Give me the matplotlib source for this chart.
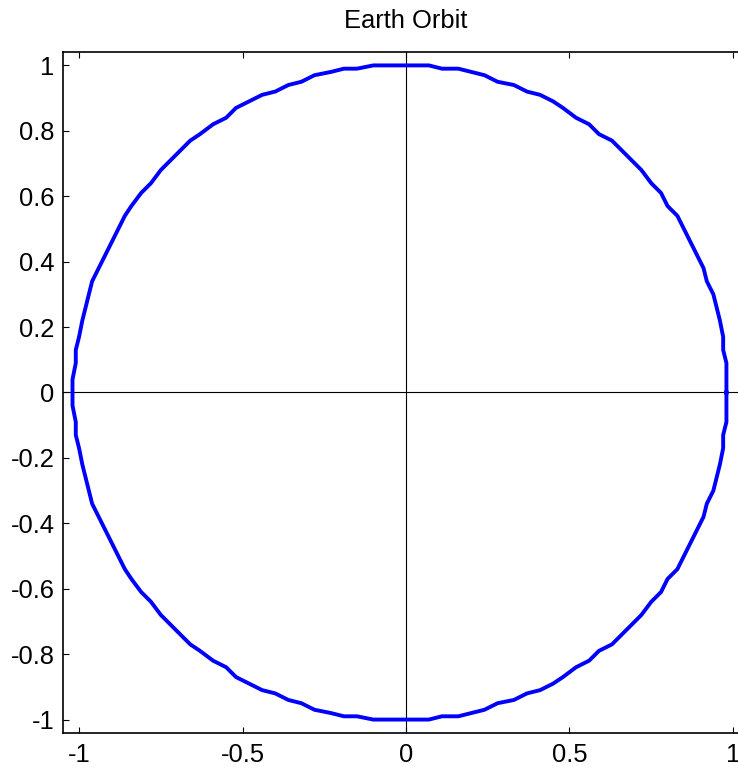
import matplotlib
matplotlib.use("Agg")
import matplotlib.pyplot as plt

plt.rcParams['font.family'] = ['Liberation Sans', 'DejaVu Sans']
plt.rcParams['axes.unicode_minus'] = False

# orbit points (AU), counter-clockwise from the right
orbit_x = [0.98, 0.98, 0.98, 0.97, 0.97, 0.96, 0.95, 0.94, 0.92, 0.91,
           0.89, 0.87, 0.85, 0.83, 0.80, 0.78, 0.75, 0.72, 0.69, 0.66,
           0.63, 0.59, 0.56, 0.52, 0.48, 0.45, 0.41, 0.37, 0.33, 0.28,
           0.24, 0.20, 0.16, 0.11, 0.07, 0.03, -0.02, -0.06, -0.10, -0.15,
           -0.19, -0.23, -0.28, -0.32, -0.36, -0.40, -0.44, -0.48, -0.52, -0.55,
           -0.59, -0.63, -0.66, -0.69, -0.72, -0.75, -0.78, -0.81, -0.84, -0.86,
           -0.88, -0.90, -0.92, -0.94, -0.96, -0.97, -0.98, -0.99, -1.00, -1.01,
           -1.01, -1.02, -1.02,
           -1.02, -1.01, -1.01, -1.00, -0.99, -0.98, -0.97, -0.96, -0.94, -0.92,
           -0.90, -0.88, -0.86, -0.84, -0.81, -0.78, -0.75, -0.72, -0.69, -0.66,
           -0.63, -0.59, -0.55, -0.52, -0.48, -0.44, -0.40, -0.36, -0.32, -0.28,
           -0.23, -0.19, -0.15, -0.10, -0.06, -0.02, 0.03, 0.07, 0.11, 0.16,
           0.20, 0.24, 0.28, 0.33, 0.37, 0.41, 0.45, 0.48, 0.52, 0.56,
           0.59, 0.63, 0.66, 0.69, 0.72, 0.75, 0.78, 0.80, 0.83, 0.85,
           0.87, 0.89, 0.91, 0.92, 0.94, 0.95, 0.96, 0.97, 0.97, 0.98,
           0.98, 0.98]
orbit_y = [0.00, 0.04, 0.09, 0.13, 0.17, 0.22, 0.26, 0.30, 0.34, 0.38,
           0.42, 0.46, 0.50, 0.54, 0.57, 0.61, 0.64, 0.68, 0.71, 0.74,
           0.77, 0.79, 0.82, 0.84, 0.87, 0.89, 0.91, 0.92, 0.94, 0.95,
           0.97, 0.98, 0.99, 0.99, 1.00, 1.00, 1.00, 1.00, 1.00, 0.99,
           0.99, 0.98, 0.97, 0.95, 0.94, 0.92, 0.91, 0.89, 0.87, 0.84,
           0.82, 0.79, 0.77, 0.74, 0.71, 0.68, 0.64, 0.61, 0.57, 0.54,
           0.50, 0.46, 0.42, 0.38, 0.34, 0.30, 0.26, 0.22, 0.17, 0.13,
           0.09, 0.04, 0.00,
           -0.04, -0.09, -0.13, -0.17, -0.22, -0.26, -0.30, -0.34, -0.38, -0.42,
           -0.46, -0.50, -0.54, -0.57, -0.61, -0.64, -0.68, -0.71, -0.74, -0.77,
           -0.79, -0.82, -0.84, -0.87, -0.89, -0.91, -0.92, -0.94, -0.95, -0.97,
           -0.98, -0.99, -0.99, -1.00, -1.00, -1.00, -1.00, -1.00, -0.99, -0.99,
           -0.98, -0.97, -0.95, -0.94, -0.92, -0.91, -0.89, -0.87, -0.84, -0.82,
           -0.79, -0.77, -0.74, -0.71, -0.68, -0.64, -0.61, -0.57, -0.54, -0.50,
           -0.46, -0.42, -0.38, -0.34, -0.30, -0.26, -0.22, -0.17, -0.13, -0.09,
           -0.04, 0.00]

xticks = [-1, -0.5, 0, 0.5, 1]
xtick_labels = ['-1', '-0.5', '0', '0.5', '1']
yticks = [-1, -0.8, -0.6, -0.4, -0.2, 0, 0.2, 0.4, 0.6, 0.8, 1]
ytick_labels = ['-1', '-0.8', '-0.6', '-0.4', '-0.2', '0', '0.2', '0.4',
                '0.6', '0.8', '1']

fig = plt.figure(figsize=(7.38, 7.68), dpi=100)
ax = fig.add_axes([0.0854, 0.0456, 0.9295, 0.8867])

ax.axhline(0, color='black', lw=0.8)
ax.axvline(0, color='black', lw=0.8)
ax.plot(orbit_x, orbit_y, color='#0000ff', lw=2.8)

ax.set_xlim(-1.049, 1.049)
ax.set_ylim(-1.041, 1.041)
ax.set_xticks(xticks)
ax.set_xticklabels(xtick_labels)
ax.set_yticks(yticks)
ax.set_yticklabels(ytick_labels)

ax.tick_params(direction='in', length=4, width=0.8, top=True, right=True,
               labelsize=18.4)
ax.tick_params(axis='x', pad=7)
ax.tick_params(axis='y', pad=6)
for sp in ax.spines.values():
    sp.set_linewidth(1.2)

ax.set_title('Earth Orbit', fontsize=18.4, pad=17)

fig.savefig('out.png', dpi=100)
